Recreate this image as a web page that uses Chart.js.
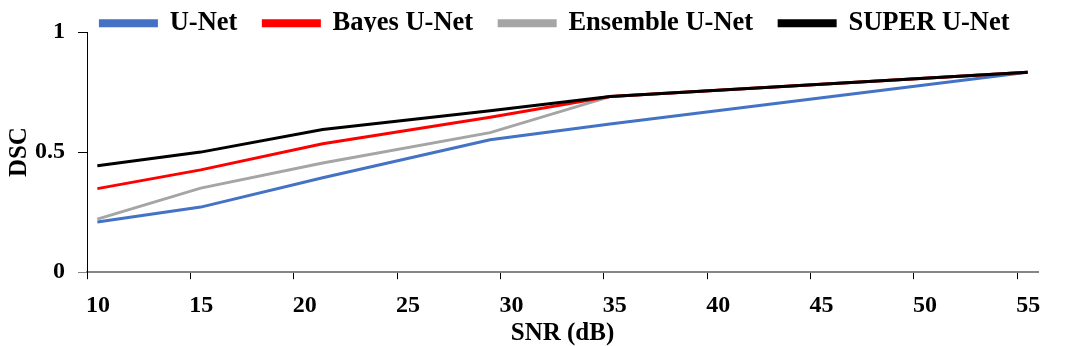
<!DOCTYPE html>
<html>
<head>
<meta charset="utf-8">
<script src="https://cdn.jsdelivr.net/npm/chart.js@4/dist/chart.umd.min.js"></script>
<style>
  html, body { margin: 0; padding: 0; background: #fff; }
  #wrap { width: 1075px; height: 346px; }
</style>
</head>
<body>
<div id="wrap"><canvas id="dsc" width="1075" height="346"></canvas></div>
<script>
// values
const snr = [10.5, 15.5, 21.4, 29.5, 35.3, 55.5];
const unet = [0.209, 0.271, 0.393, 0.551, 0.617, 0.832];
const bayesUnet = [0.348, 0.426, 0.535, 0.645, 0.731, 0.832];
const ensembleUnet = [0.221, 0.350, 0.455, 0.581, 0.731, 0.832];
const superUnet = [0.443, 0.500, 0.594, 0.672, 0.731, 0.832];

const xTicks = [10, 15, 20, 25, 30, 35, 40, 45, 50, 55];
const yTicks = [0, 0.5, 1];

const serif = "'Liberation Serif', 'Times New Roman', serif";

const toPoints = (ys) => ys.map((y, i) => ({ x: snr[i], y: y }));

const series = [
  { label: 'U-Net', data: unet, color: '#4472C4', order: 3 },
  { label: 'Bayes U-Net', data: bayesUnet, color: '#FF0000', order: 1 },
  { label: 'Ensemble U-Net', data: ensembleUnet, color: '#A5A5A5', order: 2 },
  { label: 'SUPER U-Net', data: superUnet, color: '#000000', order: 0 },
];

// legend sits above the plot without pushing it down
const legendNudge = {
  id: 'legendNudge',
  afterInit(chart) {
    const lg = chart.legend;
    const fit = lg.fit;
    lg.fit = function () { fit.call(this); this.height = 32; };
  },
  afterLayout(chart) {
    const lg = chart.legend;
    lg.top -= 16;
    lg.left += 27.5; lg.right += 27.5;
  }
};

new Chart(document.getElementById('dsc'), {
  type: 'line',
  data: {
    datasets: series.map(s => ({
      label: s.label,
      data: toPoints(s.data),
      borderColor: s.color,
      backgroundColor: s.color,
      borderWidth: 3,
      pointRadius: 0,
      tension: 0,
      borderJoinStyle: 'miter',
      borderCapStyle: 'butt',
      order: s.order
    }))
  },
  options: {
    responsive: false,
    animation: false,
    devicePixelRatio: 1,
    layout: { padding: { left: 17, right: 37, top: 0, bottom: 11.5 } },
    plugins: {
      tooltip: { enabled: false },
      legend: {
        position: 'top',
        labels: {
          boxWidth: 56,
          boxHeight: 5,
          padding: 26,
          color: '#000',
          font: { family: serif, size: 26.5, weight: 'bold' },
          sort: (a, b) => a.datasetIndex - b.datasetIndex
        }
      }
    },
    scales: {
      x: {
        type: 'linear',
        min: 10,
        max: 56,
        afterBuildTicks: axis => { axis.ticks = xTicks.map(v => ({ value: v })); },
        grid: { drawOnChartArea: false, tickLength: 7, color: '#000', lineWidth: 1 },
        border: { color: '#868686', width: 2 },
        ticks: {
          labelOffset: 11,
          padding: 12,
          color: '#000',
          maxRotation: 0,
          font: { family: serif, size: 24, weight: 'bold' }
        },
        title: {
          display: true,
          text: 'SNR (dB)',
          color: '#000',
          padding: { top: 0, bottom: 0 },
          font: { family: serif, size: 25, weight: 'bold', lineHeight: 0.1 }
        }
      },
      y: {
        min: 0,
        max: 1,
        afterBuildTicks: axis => { axis.ticks = yTicks.map(v => ({ value: v })); },
        grid: {
          drawOnChartArea: false,
          tickLength: 9,
          lineWidth: 1,
          color: ctx => (ctx.tick && ctx.tick.value === 0 ? '#868686' : '#000')
        },
        border: { color: '#000', width: 1 },
        ticks: {
          padding: 13,
          color: '#000',
          font: { family: serif, size: 24, weight: 'bold' },
          callback: v => String(v)
        },
        title: {
          display: true,
          text: 'DSC',
          color: '#000',
          padding: { top: 0, bottom: 0 },
          font: { family: serif, size: 25, weight: 'bold', lineHeight: 0.2 }
        }
      }
    }
  },
  plugins: [legendNudge]
});
</script>
</body>
</html>
